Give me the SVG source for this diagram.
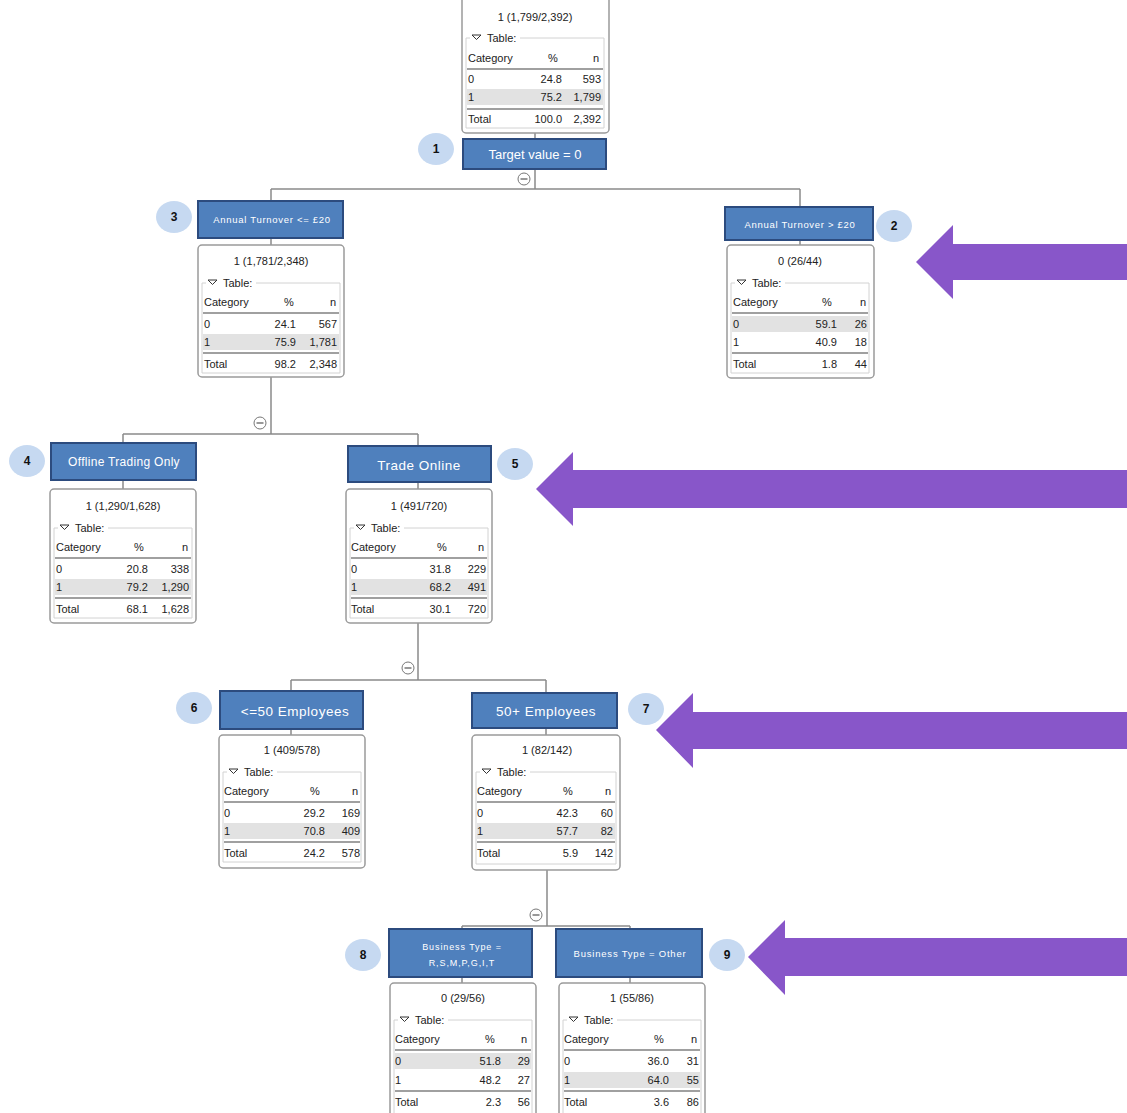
<svg xmlns="http://www.w3.org/2000/svg" width="1127" height="1113" viewBox="0 0 1127 1113">
<style>
.bg{fill:#ffffff}
.box{fill:#ffffff;stroke:#9a9a9a;stroke-width:1.5}
.fs{fill:none;stroke:#d2d2d2;stroke-width:1}
.shade{fill:#e2e2e2}
.rule{stroke:#a0a0a0;stroke-width:2}
.t{font-family:"Liberation Sans",Arial,sans-serif;font-size:11px;fill:#222}
.r{text-anchor:end}
.m{text-anchor:middle}
.hdr{fill:#4f80bd;stroke:#2c4b7e;stroke-width:2}
.ht{font-family:"Liberation Sans",Arial,sans-serif;fill:#ffffff;text-anchor:middle}
.num{fill:#c6d9f1}
.nt{font-family:"Liberation Sans",Arial,sans-serif;font-size:12px;font-weight:bold;fill:#111;text-anchor:middle}
.con{fill:none;stroke:#8a8a8a;stroke-width:1.5}
.minus{fill:#ffffff;stroke:#777;stroke-width:1}
.arrow{fill:#8856c9}
</style>
<defs>
<g id="minus"><circle class="minus" cx="0" cy="0" r="6"/><line x1="-3.5" y1="0" x2="3.5" y2="0" stroke="#555" stroke-width="1.2"/></g>
<path id="tri" d="M0,0 L9,0 L4.5,4.5 Z" fill="none" stroke="#333" stroke-width="1"/>
</defs>
<rect class="bg" x="0" y="0" width="1127" height="1113"/>

<g id="connectors">
<path class="con" d="M535,133 V139 M535,169 V189 M271,189 H800 M271,189 V201 M800,189 V207"/>
<use href="#minus" x="524" y="179"/>
<path class="con" d="M271,238 V245 M271,377 V434 M123,434 H418 M123,434 V443 M418,434 V447 M800,240 V245"/>
<use href="#minus" x="260" y="423"/>
<path class="con" d="M123,480 V489 M418,482 V489 M418,623 V680 M291,680 H546 M291,680 V691 M546,680 V693"/>
<use href="#minus" x="408" y="668"/>
<path class="con" d="M291,729 V735 M546,728 V735 M547,870 V926 M462,926 H630 M462,926 V929 M630,926 V929"/>
<use href="#minus" x="536" y="915"/>
<path class="con" d="M462,977 V983 M630,977 V983"/>
</g>

<!-- Node 1 -->
<g id="node1">
<rect class="box" x="462" y="-10" width="147" height="143" rx="4"/>
<g transform="translate(462,0)">
<text class="t m" x="73" y="21">1 (1,799/2,392)</text>
<path class="fs" d="M4,38 H8 M58,38 H142 V128 H4 V38"/>
<use href="#tri" x="10" y="35"/>
<text class="t" x="25" y="42">Table:</text>
<text class="t" x="6" y="62">Category</text>
<text class="t m" x="91" y="62">%</text>
<text class="t r" x="137" y="62">n</text>
<line class="rule" x1="5" y1="69" x2="141" y2="69"/>
<text class="t" x="6" y="83">0</text><text class="t r" x="100" y="83">24.8</text><text class="t r" x="139" y="83">593</text>
<rect class="shade" x="5" y="89" width="136" height="16"/>
<text class="t" x="6" y="101">1</text><text class="t r" x="100" y="101">75.2</text><text class="t r" x="139" y="101">1,799</text>
<line class="rule" x1="5" y1="109" x2="141" y2="109"/>
<text class="t" x="6" y="123">Total</text><text class="t r" x="100" y="123">100.0</text><text class="t r" x="139" y="123">2,392</text>
</g>
<rect class="hdr" x="463" y="139" width="143" height="30"/>
<text class="ht" x="535" y="159" font-size="13">Target value = 0</text>
<ellipse class="num" cx="436" cy="149" rx="18" ry="16"/>
<text class="nt" x="436" y="153">1</text>
</g>

<!-- Node 3 -->
<g id="node3">
<rect class="hdr" x="198" y="201" width="145" height="37"/>
<text class="ht" x="272" y="223" font-size="9.5" letter-spacing="0.7">Annual Turnover &lt;= £20</text>
<ellipse class="num" cx="174" cy="217" rx="18" ry="16"/>
<text class="nt" x="174" y="221">3</text>
<rect class="box" x="198" y="245" width="146" height="132" rx="4"/>
<g transform="translate(198,245)">
<text class="t m" x="73" y="20">1 (1,781/2,348)</text>
<path class="fs" d="M4,38 H8 M58,38 H142 V128 H4 V38"/>
<use href="#tri" x="10" y="35"/>
<text class="t" x="25" y="42">Table:</text>
<text class="t" x="6" y="61">Category</text>
<text class="t m" x="91" y="61">%</text>
<text class="t r" x="138" y="61">n</text>
<line class="rule" x1="5" y1="68" x2="141" y2="68"/>
<text class="t" x="6" y="83">0</text><text class="t r" x="98" y="83">24.1</text><text class="t r" x="139" y="83">567</text>
<rect class="shade" x="5" y="89" width="136" height="16"/>
<text class="t" x="6" y="101">1</text><text class="t r" x="98" y="101">75.9</text><text class="t r" x="139" y="101">1,781</text>
<line class="rule" x1="5" y1="108" x2="141" y2="108"/>
<text class="t" x="6" y="123">Total</text><text class="t r" x="98" y="123">98.2</text><text class="t r" x="139" y="123">2,348</text>
</g>
</g>

<!-- Node 2 -->
<g id="node2">
<rect class="hdr" x="725" y="207" width="148" height="33"/>
<text class="ht" x="800" y="228" font-size="9.5" letter-spacing="0.7">Annual Turnover  &gt; £20</text>
<ellipse class="num" cx="894" cy="226" rx="18" ry="16"/>
<text class="nt" x="894" y="230">2</text>
<rect class="box" x="727" y="245" width="147" height="133" rx="4"/>
<g transform="translate(727,245)">
<text class="t m" x="73" y="20">0 (26/44)</text>
<path class="fs" d="M4,38 H8 M58,38 H142 V128 H4 V38"/>
<use href="#tri" x="10" y="35"/>
<text class="t" x="25" y="42">Table:</text>
<text class="t" x="6" y="61">Category</text>
<text class="t m" x="100" y="61">%</text>
<text class="t r" x="139" y="61">n</text>
<line class="rule" x1="5" y1="68" x2="141" y2="68"/>
<rect class="shade" x="5" y="71" width="136" height="16"/>
<text class="t" x="6" y="83">0</text><text class="t r" x="110" y="83">59.1</text><text class="t r" x="140" y="83">26</text>
<text class="t" x="6" y="101">1</text><text class="t r" x="110" y="101">40.9</text><text class="t r" x="140" y="101">18</text>
<line class="rule" x1="5" y1="108" x2="141" y2="108"/>
<text class="t" x="6" y="123">Total</text><text class="t r" x="110" y="123">1.8</text><text class="t r" x="140" y="123">44</text>
</g>
</g>

<!-- Node 4 -->
<g id="node4">
<rect class="hdr" x="51" y="443" width="145" height="37"/>
<text class="ht" x="124" y="466" font-size="12" letter-spacing="0.3">Offline  Trading Only</text>
<ellipse class="num" cx="27" cy="461" rx="18" ry="16"/>
<text class="nt" x="27" y="465">4</text>
<rect class="box" x="50" y="489" width="146" height="134" rx="4"/>
<g transform="translate(50,490)">
<text class="t m" x="73" y="20">1 (1,290/1,628)</text>
<path class="fs" d="M4,38 H8 M58,38 H142 V128 H4 V38"/>
<use href="#tri" x="10" y="35"/>
<text class="t" x="25" y="42">Table:</text>
<text class="t" x="6" y="61">Category</text>
<text class="t m" x="89" y="61">%</text>
<text class="t r" x="138" y="61">n</text>
<line class="rule" x1="5" y1="68" x2="141" y2="68"/>
<text class="t" x="6" y="83">0</text><text class="t r" x="98" y="83">20.8</text><text class="t r" x="139" y="83">338</text>
<rect class="shade" x="5" y="89" width="136" height="16"/>
<text class="t" x="6" y="101">1</text><text class="t r" x="98" y="101">79.2</text><text class="t r" x="139" y="101">1,290</text>
<line class="rule" x1="5" y1="108" x2="141" y2="108"/>
<text class="t" x="6" y="123">Total</text><text class="t r" x="98" y="123">68.1</text><text class="t r" x="139" y="123">1,628</text>
</g>
</g>

<!-- Node 5 -->
<g id="node5">
<rect class="hdr" x="348" y="446" width="143" height="36"/>
<text class="ht" x="419" y="470" font-size="13.5" letter-spacing="0.5">Trade Online</text>
<ellipse class="num" cx="515" cy="464" rx="18" ry="16"/>
<text class="nt" x="515" y="468">5</text>
<rect class="box" x="346" y="489" width="146" height="134" rx="4"/>
<g transform="translate(346,490)">
<text class="t m" x="73" y="20">1 (491/720)</text>
<path class="fs" d="M4,38 H8 M58,38 H142 V128 H4 V38"/>
<use href="#tri" x="10" y="35"/>
<text class="t" x="25" y="42">Table:</text>
<text class="t" x="5" y="61">Category</text>
<text class="t m" x="96" y="61">%</text>
<text class="t r" x="138" y="61">n</text>
<line class="rule" x1="5" y1="68" x2="141" y2="68"/>
<text class="t" x="5" y="83">0</text><text class="t r" x="105" y="83">31.8</text><text class="t r" x="140" y="83">229</text>
<rect class="shade" x="5" y="89" width="136" height="16"/>
<text class="t" x="5" y="101">1</text><text class="t r" x="105" y="101">68.2</text><text class="t r" x="140" y="101">491</text>
<line class="rule" x1="5" y1="108" x2="141" y2="108"/>
<text class="t" x="5" y="123">Total</text><text class="t r" x="105" y="123">30.1</text><text class="t r" x="140" y="123">720</text>
</g>
</g>

<!-- Node 6 -->
<g id="node6">
<rect class="hdr" x="220" y="691" width="143" height="38"/>
<text class="ht" x="295" y="716" font-size="13.5" letter-spacing="0.5">&lt;=50 Employees</text>
<ellipse class="num" cx="194" cy="708" rx="18" ry="16"/>
<text class="nt" x="194" y="712">6</text>
<rect class="box" x="219" y="735" width="146" height="133" rx="4"/>
<g transform="translate(219,734)">
<text class="t m" x="73" y="20">1 (409/578)</text>
<path class="fs" d="M4,38 H8 M58,38 H142 V128 H4 V38"/>
<use href="#tri" x="10" y="35"/>
<text class="t" x="25" y="42">Table:</text>
<text class="t" x="5" y="61">Category</text>
<text class="t m" x="96" y="61">%</text>
<text class="t r" x="139" y="61">n</text>
<line class="rule" x1="5" y1="68" x2="141" y2="68"/>
<text class="t" x="5" y="83">0</text><text class="t r" x="106" y="83">29.2</text><text class="t r" x="141" y="83">169</text>
<rect class="shade" x="5" y="89" width="136" height="16"/>
<text class="t" x="5" y="101">1</text><text class="t r" x="106" y="101">70.8</text><text class="t r" x="141" y="101">409</text>
<line class="rule" x1="5" y1="108" x2="141" y2="108"/>
<text class="t" x="5" y="123">Total</text><text class="t r" x="106" y="123">24.2</text><text class="t r" x="141" y="123">578</text>
</g>
</g>

<!-- Node 7 -->
<g id="node7">
<rect class="hdr" x="472" y="693" width="145" height="35"/>
<text class="ht" x="546" y="716" font-size="13.5" letter-spacing="0.5">50+ Employees</text>
<ellipse class="num" cx="646" cy="709" rx="18" ry="16"/>
<text class="nt" x="646" y="713">7</text>
<rect class="box" x="472" y="735" width="148" height="135" rx="4"/>
<g transform="translate(472,734)">
<text class="t m" x="75" y="20">1 (82/142)</text>
<path class="fs" d="M4,38 H8 M58,38 H144 V130 H4 V38"/>
<use href="#tri" x="10" y="35"/>
<text class="t" x="25" y="42">Table:</text>
<text class="t" x="5" y="61">Category</text>
<text class="t m" x="96" y="61">%</text>
<text class="t r" x="139" y="61">n</text>
<line class="rule" x1="5" y1="68" x2="143" y2="68"/>
<text class="t" x="5" y="83">0</text><text class="t r" x="106" y="83">42.3</text><text class="t r" x="141" y="83">60</text>
<rect class="shade" x="5" y="89" width="138" height="16"/>
<text class="t" x="5" y="101">1</text><text class="t r" x="106" y="101">57.7</text><text class="t r" x="141" y="101">82</text>
<line class="rule" x1="5" y1="108" x2="143" y2="108"/>
<text class="t" x="5" y="123">Total</text><text class="t r" x="106" y="123">5.9</text><text class="t r" x="141" y="123">142</text>
</g>
</g>

<!-- Node 8 -->
<g id="node8">
<rect class="hdr" x="389" y="929" width="143" height="48"/>
<text class="ht" x="462" y="950" font-size="9" letter-spacing="0.9">Business Type =</text>
<text class="ht" x="462" y="966" font-size="9" letter-spacing="0.9">R,S,M,P,G,I,T</text>
<ellipse class="num" cx="363" cy="955" rx="18" ry="16"/>
<text class="nt" x="363" y="959">8</text>
<rect class="box" x="390" y="983" width="146" height="140" rx="4"/>
<g transform="translate(390,982)">
<text class="t m" x="73" y="20">0 (29/56)</text>
<path class="fs" d="M4,38 H8 M58,38 H142 V140 M4,140 V38"/>
<use href="#tri" x="10" y="35"/>
<text class="t" x="25" y="42">Table:</text>
<text class="t" x="5" y="61">Category</text>
<text class="t m" x="100" y="61">%</text>
<text class="t r" x="137" y="61">n</text>
<line class="rule" x1="5" y1="68" x2="141" y2="68"/>
<rect class="shade" x="5" y="71" width="136" height="16"/>
<text class="t" x="5" y="83">0</text><text class="t r" x="111" y="83">51.8</text><text class="t r" x="140" y="83">29</text>
<text class="t" x="5" y="102">1</text><text class="t r" x="111" y="102">48.2</text><text class="t r" x="140" y="102">27</text>
<line class="rule" x1="5" y1="109" x2="141" y2="109"/>
<text class="t" x="5" y="124">Total</text><text class="t r" x="111" y="124">2.3</text><text class="t r" x="140" y="124">56</text>
</g>
</g>

<!-- Node 9 -->
<g id="node9">
<rect class="hdr" x="556" y="929" width="146" height="48"/>
<text class="ht" x="630" y="957" font-size="9.5" letter-spacing="0.8">Business Type = Other</text>
<ellipse class="num" cx="727" cy="955" rx="18" ry="16"/>
<text class="nt" x="727" y="959">9</text>
<rect class="box" x="559" y="983" width="146" height="140" rx="4"/>
<g transform="translate(559,982)">
<text class="t m" x="73" y="20">1 (55/86)</text>
<path class="fs" d="M4,38 H8 M58,38 H142 V140 M4,140 V38"/>
<use href="#tri" x="10" y="35"/>
<text class="t" x="25" y="42">Table:</text>
<text class="t" x="5" y="61">Category</text>
<text class="t m" x="100" y="61">%</text>
<text class="t r" x="138" y="61">n</text>
<line class="rule" x1="5" y1="68" x2="141" y2="68"/>
<text class="t" x="5" y="83">0</text><text class="t r" x="110" y="83">36.0</text><text class="t r" x="140" y="83">31</text>
<rect class="shade" x="5" y="90" width="136" height="16"/>
<text class="t" x="5" y="102">1</text><text class="t r" x="110" y="102">64.0</text><text class="t r" x="140" y="102">55</text>
<line class="rule" x1="5" y1="109" x2="141" y2="109"/>
<text class="t" x="5" y="124">Total</text><text class="t r" x="110" y="124">3.6</text><text class="t r" x="140" y="124">86</text>
</g>
</g>

<!-- Purple arrows -->
<g id="arrows">
<path class="arrow" d="M916,262 L953,225 L953,244 L1127,244 L1127,280 L953,280 L953,299 Z"/>
<path class="arrow" d="M536,489 L573,452 L573,470 L1127,470 L1127,508 L573,508 L573,526 Z"/>
<path class="arrow" d="M656,730 L693,693 L693,712 L1127,712 L1127,749 L693,749 L693,768 Z"/>
<path class="arrow" d="M748,957 L785,920 L785,938 L1127,938 L1127,976 L785,976 L785,995 Z"/>
</g>
</svg>
